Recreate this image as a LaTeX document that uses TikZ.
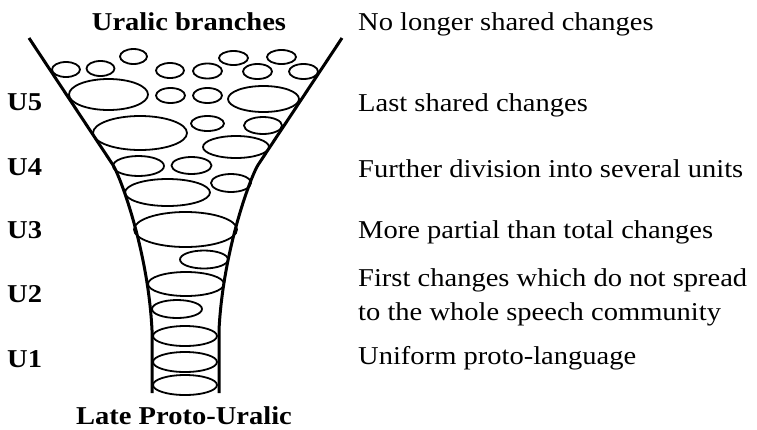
\documentclass[tikz,border=0pt]{standalone}
\usepackage{fontspec}
\setmainfont{Liberation Serif}[FakeStretch=1.11]
\begin{document}
\begin{tikzpicture}[x=1pt,y=-1pt,
  lbl/.style={font=\fontsize{25.7}{32}\selectfont, inner sep=0pt, anchor=base west},
  ttl/.style={font=\fontsize{25.7}{32}\selectfont\bfseries, inner sep=0pt, anchor=base},
  lvl/.style={font=\fontsize{25.7}{32}\selectfont\bfseries, inner sep=0pt, anchor=base west},
  wall/.style={line width=3pt, line join=round},
  blob/.style={line width=1.8pt}]
\useasboundingbox (0,0) rectangle (757,429);
% ellipses
\foreach \cx/\cy/\rx/\ry in {
  133.5/56.5/13.5/7.5, 66/69.5/14/7.5, 100.5/68.5/14/7.5, 170/70.5/14/7.5,
  207.5/71/14.5/7.5, 233.5/58/14.5/7, 281.5/57/14.5/7, 257.5/71.5/14.5/7.5,
  303.5/71.5/14.5/7.5, 108.5/94.5/39.5/15.5, 170.5/95.5/14.5/7.5,
  207.5/95.5/14.5/7.5, 263.5/99/35.5/13, 140/133/47/17, 207.5/123.5/16.5/7.5,
  263/125.5/19/8.5, 236/147/33/11, 138.5/166/25.5/10, 191.5/165.5/20/8.5,
  231/183/20/9, 167.5/192.5/42.5/13.5, 185.5/229.5/51.5/17.5, 204/259.5/24/9,
  186/284/38/12, 177/309/25/9, 185/336/32/10, 185/362/32/10, 185/385/32/10}
  \draw[blob] (\cx,\cy) ellipse [x radius=\rx pt, y radius=\ry pt];
% funnel walls
\draw[wall] (29,38) -- (113,165) .. controls (120,176) and (148,250) .. (152,330) -- (152,393);
\draw[wall] (342,38) -- (258,165) .. controls (251,176) and (223,250) .. (219,330) -- (219,393);
% titles
\node[ttl] (top) at (189,30) {Uralic branches};
\node[ttl] (bot) at (184,424) {Late Proto-Uralic};
% levels
\node[lvl] (u5) at (7,110) {U5};
\node[lvl] (u4) at (7,175) {U4};
\node[lvl] (u3) at (7,238) {U3};
\node[lvl] (u2) at (7,302) {U2};
\node[lvl] (u1) at (7,367) {U1};
% descriptions
\node[lbl] (d6) at (358,30) {No longer shared changes};
\node[lbl] (d5) at (358,111) {Last shared changes};
\node[lbl] (d4) at (358,177) {Further division into several units};
\node[lbl] (d3) at (358,238) {More partial than total changes};
\node[lbl] (d2a) at (358,286) {First changes which do not spread};
\node[lbl] (d2b) at (358,320) {to the whole speech community};
\node[lbl] (d1) at (358,364) {Uniform proto-language};
\end{tikzpicture}
\end{document}
